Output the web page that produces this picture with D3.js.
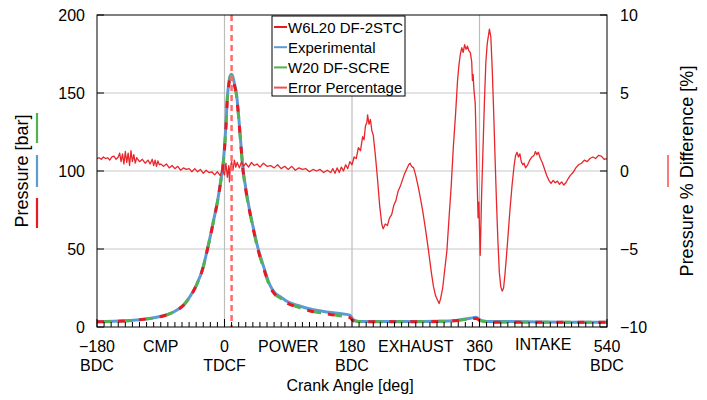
<!DOCTYPE html>
<html><head><meta charset="utf-8">
<script src="https://cdn.jsdelivr.net/npm/d3@7"></script>
<style>body{margin:0;background:#fff;} text{font-family:"Liberation Sans",Arial,sans-serif;fill:#000;}</style>
</head><body><svg id="c" width="707" height="400"></svg>
<script>
const crankAngle = [-180,-150,-120,-100,-80,-70,-60,-50,-40,-30,-25,-20,-15,-10,-5,-3,0,2,4,6,8,10,12,14,17,20,23,26,30,35,40,47,55,64,70,80,90,105,121,140,160,177,182,190,220,260,300,330,347,355,362,370,400,450,500,540];
const pressW6L20 = [3.3,3.7,4.6,5.8,8.0,10,13,18.5,26.5,38.5,48,58,69,80,94,100,114,128,146,155,160,161,159,155,148,134,117,101,88,75,64,50,38,26,21.5,18,15,12.5,10.3,8.7,7.3,6.0,4.0,3.4,3.3,3.3,3.5,4.2,5.2,5.5,3.8,3.2,3.0,3.0,3.0,3.0];
const pressExperimental = [3.4,3.8,4.7,5.9,8.1,10.1,13.2,18.7,26.6,38.6,48.2,58.3,69.2,80.3,94.5,100.5,115,129,147,156,161,162,160,156,149,135,118,102,89,76,65,51,39,27,22.5,19,16,13.6,11.5,10,8.8,7.6,4.6,3.6,3.5,3.5,3.7,4.4,5.6,6.2,4.2,3.6,3.5,3.2,3.1,3.1];
const pressW20 = [3.3,3.7,4.6,5.8,8.0,10,13,18.4,26.4,38.4,48,58,69,80,94,100,114,128,146,155,160,161,159,155,148,134,117,101,88,75,64,50,38,26,21.7,18.2,15.2,12.6,10.4,8.8,7.4,6.1,4.2,3.5,3.4,3.4,3.6,4.3,5.3,5.6,3.9,3.3,3.1,3.1,3.1,3.1];

const errAngle = [-180,-177,-174,-171,-168,-165,-162,-159,-156,-153,-150,-148,-146,-144,-142,-140,-138,-136,-134,-132,-130,-128,-126,-124,-120,-116,-112,-108,-105,-102,-100,-98,-96,-94,-92,-90,-86,-82,-78,-74,-70,-66,-62,-58,-54,-50,-46,-42,-38,-34,-30,-26,-22,-18,-14,-10,-6,-3,0,2,4,6,7,8,10,12,14,16,18,21,24,27,30,34,38,42,46,50,55,60,65,70,75,80,85,90,95,100,105,110,115,120,125,130,135,140,145,150,153,156,159,162,165,168,171,174,177,180,183,186,189,192,195,197,199,201,202,204,206,208,210,213,216,219,222,224,227,230,233,236,239,242,245,248,251,254,257,260,262,264,267,270,273,276,280,284,288,292,295,298,301,303,305,308,311,314,317,320,323,326,329,331,333,335,337,339,341,343,345,347,349,350,351,352,354,356,358,359,361,363,365,367,369,371,374,376,378,380,382,384,386,388,390,392,394,396,398,400,403,406,409,411,413,415,417,419,421,423,425,428,431,434,437,439,441,443,446,449,452,455,458,461,464,467,470,473,476,479,482,485,488,492,496,500,504,508,512,516,520,524,528,532,536,540];
const errPercent = [0.8,0.85,0.75,0.9,0.8,0.85,0.7,0.9,0.95,0.75,0.9,1.15,0.6,1.1,0.45,1.25,0.55,1.15,0.35,1.3,0.6,1.05,0.5,0.85,0.6,0.75,0.5,0.7,0.45,0.75,0.35,0.7,0.3,0.65,0.4,0.45,0.3,0.45,0.2,0.35,0.15,0.3,0.05,0.2,0.1,0.15,-0.05,0.15,-0.05,0.1,-0.15,0.05,-0.1,-0.05,-0.25,-0.05,-0.3,0.1,-0.25,0.5,-0.4,0.35,-0.7,0.15,0.6,0.05,0.7,0.25,0.55,0.2,0.6,0.3,0.5,0.25,0.55,0.35,0.45,0.25,0.5,0.3,0.35,0.2,0.4,0.15,0.3,0.1,0.3,0.05,0.2,0.1,0.15,-0.05,0.1,0.0,0.1,-0.1,0.05,-0.1,0.15,-0.15,0.2,-0.1,0.25,0.0,0.4,0.15,0.6,0.4,0.9,0.8,1.5,1.3,2.2,2.0,2.9,3.1,3.6,3.0,3.3,2.6,2.3,1.0,-0.5,-2.2,-3.4,-3.7,-3.4,-3.5,-3.0,-2.8,-2.2,-1.9,-1.3,-1.0,-0.6,-0.2,0.1,0.4,0.5,0.3,0.2,-0.3,-0.9,-1.6,-2.6,-3.8,-5.1,-6.5,-7.4,-8.0,-8.3,-8.5,-8.2,-7.5,-6.3,-5.1,-3.0,-1.0,1.5,3.5,5.8,6.8,7.5,7.9,7.6,8.1,7.8,8.0,7.7,7.6,7.0,5.8,6.2,5.3,4.3,0.5,-3.0,-2.0,-5.4,-1.5,1.5,4.5,7.0,8.2,9.1,8.6,6.5,3.8,0.8,-2.0,-4.5,-6.5,-7.4,-7.7,-7.5,-6.6,-5.5,-4.3,-2.5,-0.9,0.4,1.0,1.2,0.9,1.1,0.6,0.4,0.5,0.2,0.4,0.7,0.9,1.0,1.25,1.05,1.2,0.8,0.5,0.1,-0.3,-0.6,-0.8,-0.6,-0.75,-0.65,-0.85,-0.7,-0.9,-0.75,-0.5,-0.3,-0.1,0.2,0.4,0.5,0.7,0.6,0.8,0.9,0.8,1.0,0.95,0.75,0.8];

const xTickVals = [-180,0,180,360,540];
const xTickTop = ["\u2212180","0","180","360","540"];
const xTickBottom = ["BDC","TDCF","BDC","TDC","BDC"];
const strokeAngle = [-90,90,270,450];
const strokeLabels = ["CMP","POWER","EXHAUST","INTAKE"];
const yTicks = [0,50,100,150,200];
const y2Ticks = [-10,-5,0,5,10];
const peakAngle = 10;
const seriesNames = ["W6L20 DF-2STC","Experimental","W20 DF-SCRE","Error Percentage"];
const seriesColors = ["#e8191f","#5b9bd5","#55b04f","#f05050"];

const svg = d3.select("#c");
const L=97, R=607, T=15, B=327;
const x = d3.scaleLinear().domain([-180,540]).range([L,R]);
const y = d3.scaleLinear().domain([0,200]).range([B,T]);
const y2 = d3.scaleLinear().domain([-10,10]).range([B,T]);
const fmt = v => (v<0? "\u2212"+Math.abs(v) : ""+v);

svg.append("defs").append("clipPath").attr("id","clip").append("rect").attr("x",L).attr("y",T).attr("width",R-L).attr("height",B-T);

// grid
const g = svg.append("g");
g.selectAll("line.hg").data([50,100,150]).join("line")
  .attr("x1",L).attr("x2",R).attr("y1",d=>y(d)).attr("y2",d=>y(d))
  .attr("stroke","#c8c8c8").attr("stroke-width",1.2);
g.selectAll("line.vg").data([0,180,360]).join("line")
  .attr("x1",d=>x(d)).attr("x2",d=>x(d)).attr("y1",T).attr("y2",B)
  .attr("stroke","#bdbdbd").attr("stroke-width",1.2);

// pressure lines
const pts = arr => crankAngle.map((a,i)=>[a,arr[i]]);
const pline = d3.line().x(d=>x(d[0])).y(d=>y(d[1])).curve(d3.curveMonotoneX);
const plot = svg.append("g").attr("clip-path","url(#clip)");
plot.append("path").attr("d",pline(pts(pressExperimental))).attr("fill","none")
  .attr("stroke",seriesColors[1]).attr("stroke-width",3);
plot.append("path").attr("d",pline(pts(pressW20))).attr("fill","none")
  .attr("stroke",seriesColors[2]).attr("stroke-width",3)
  .attr("stroke-dasharray","7,14").attr("stroke-dashoffset",-7);
plot.append("path").attr("d",pline(pts(pressW6L20))).attr("fill","none")
  .attr("stroke",seriesColors[0]).attr("stroke-width",3)
  .attr("stroke-dasharray","7,14");

// error line
const eline = d3.line().x(d=>x(d[0])).y(d=>y2(d[1]));
plot.append("path").attr("d",eline(errAngle.map((a,i)=>[a,errPercent[i]]))).attr("fill","none")
  .attr("stroke","#e8262b").attr("stroke-width",1.3).attr("stroke-linejoin","round");

// vertical dashed line at peak
svg.append("line").attr("x1",x(peakAngle)).attr("x2",x(peakAngle)).attr("y1",T).attr("y2",B)
  .attr("stroke","#ff6b6b").attr("stroke-width",2.5).attr("stroke-dasharray","6,4");

// frame
svg.append("rect").attr("x",L).attr("y",T).attr("width",R-L).attr("height",B-T)
  .attr("fill","none").attr("stroke","#000").attr("stroke-width",1);

// bottom ticks
const minor = d3.range(-180,541,10);
svg.append("g").selectAll("line").data(minor).join("line")
  .attr("x1",d=>x(d)).attr("x2",d=>x(d)).attr("y1",B).attr("y2",d=> d%180===0 ? B-8 : B-5)
  .attr("stroke","#000").attr("stroke-width",1);
// left ticks
svg.append("g").selectAll("line").data(yTicks).join("line")
  .attr("x1",L).attr("x2",L+7).attr("y1",d=>y(d)).attr("y2",d=>y(d)).attr("stroke","#000");
svg.append("g").selectAll("text").data(yTicks).join("text")
  .attr("x",L-12).attr("y",d=>y(d)+6).attr("text-anchor","end").attr("font-size",16).text(d=>d);
// right ticks
svg.append("g").selectAll("line").data(y2Ticks).join("line")
  .attr("x1",R-7).attr("x2",R).attr("y1",d=>y2(d)).attr("y2",d=>y2(d)).attr("stroke","#000");
svg.append("g").selectAll("text").data(y2Ticks).join("text")
  .attr("x",R+13).attr("y",d=>y2(d)+6).attr("text-anchor","start").attr("font-size",16).text(d=>fmt(d));

// x labels
const xl = svg.append("g").attr("font-size",16).attr("text-anchor","middle");
xl.selectAll("text.t").data(xTickVals).join("text").attr("class","t").attr("x",d=>x(d)).attr("y",352)
  .text((d,i)=>xTickTop[i]);
xl.selectAll("text.b").data(xTickVals).join("text").attr("class","b").attr("x",d=>x(d)).attr("y",371)
  .text((d,i)=>xTickBottom[i]);
xl.selectAll("text.s").data(strokeAngle).join("text").attr("class","s").attr("x",d=>x(d)).attr("y",(d,i)=> i===3?350:352)
  .text((d,i)=>strokeLabels[i]);
svg.append("text").attr("x",(L+R)/2-2).attr("y",391).attr("text-anchor","middle").attr("font-size",16).text("Crank Angle [deg]");

// y titles
svg.append("text").attr("transform","translate(28,171) rotate(-90)").attr("text-anchor","middle")
  .attr("font-size",18).text("Pressure [bar]");
[[2,113,143],[1,155,187],[0,198,228]].forEach(([c,a,b])=>{
  svg.append("line").attr("x1",37).attr("x2",37).attr("y1",a).attr("y2",b).attr("stroke",seriesColors[c]).attr("stroke-width",2.2);
});
svg.append("text").attr("transform","translate(693,171) rotate(-90)").attr("text-anchor","middle")
  .attr("font-size",18).text("Pressure % Difference [%]");
svg.append("line").attr("x1",668).attr("x2",668).attr("y1",155).attr("y2",187).attr("stroke",seriesColors[3]).attr("stroke-width",1.5);

// legend
const lg = svg.append("g");
lg.append("rect").attr("x",272).attr("y",16).attr("width",133).attr("height",80).attr("fill","#fff").attr("stroke","#000").attr("stroke-width",1);
seriesNames.forEach((n,i)=>{
  const yy = 27 + i*20.2;
  lg.append("line").attr("x1",274).attr("x2",287).attr("y1",yy).attr("y2",yy).attr("stroke",seriesColors[i]).attr("stroke-width",2);
  lg.append("text").attr("x",288).attr("y",yy+5.5).attr("font-size",15).text(n);
});
</script></body></html>
